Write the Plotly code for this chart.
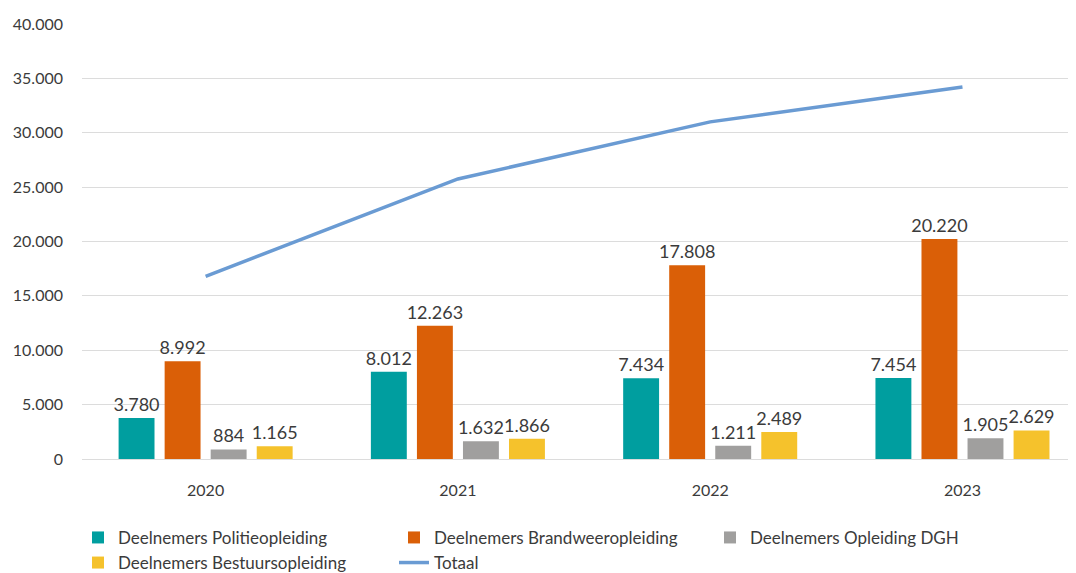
import plotly.graph_objects as go

jaren = ["2020", "2021", "2022", "2023"]
politie = [3780, 8012, 7434, 7454]
brandweer = [8992, 12263, 17808, 20220]
dgh = [884, 1632, 1211, 1905]
bestuur = [1165, 1866, 2489, 2629]
totaal = [16800, 25750, 31000, 34200]

tekst = "#3b3b3b"
fig = go.Figure()

series = [
    ("Deelnemers Politieopleiding", politie, "#009E9F"),
    ("Deelnemers Brandweeropleiding", brandweer, "#DA5F07"),
    ("Deelnemers Opleiding DGH", dgh, "#A09F9E"),
    ("Deelnemers Bestuursopleiding", bestuur, "#F5C22C"),
]
for naam, waarden, kleur in series:
    fig.add_trace(go.Bar(
        x=jaren, y=waarden, name=naam,
        marker=dict(color=kleur, line=dict(width=0)),
        text=[f"{v:,}".replace(",", ".") for v in waarden],
        textposition="outside", cliponaxis=False, constraintext="none",
        textfont=dict(size=18, color=tekst),
    ))

fig.add_trace(go.Scatter(
    x=jaren, y=totaal, name="Totaal", mode="lines",
    line=dict(color="#6A9BD3", width=3.5),
))

fig.update_layout(
    width=1068, height=565,
    margin=dict(l=74, r=0, t=16, b=114, autoexpand=False),
    paper_bgcolor="white", plot_bgcolor="white",
    font=dict(family="Lato", size=16, color=tekst),
    separators=",.",
    barmode="group", bargap=0.27, bargroupgap=0.22,
    showlegend=True,
    hovermode=False,
    legend=dict(
        orientation="h", x=-0.004, xanchor="left", y=-0.14, yanchor="top",
        entrywidth=271, entrywidthmode="pixels",
        font=dict(size=17, color=tekst), traceorder="normal",
        itemwidth=30, tracegroupgap=0,
    ),
    xaxis=dict(
        range=[-0.49, 3.45], showgrid=False, showline=False, ticks="",
        tickfont=dict(size=16, color=tekst), ticklabelstandoff=20,
    ),
    yaxis=dict(
        range=[0, 40000], dtick=5000, tickformat=",d",
        showgrid=True, gridcolor="#dcdcdc", gridwidth=1,
        zeroline=True, zerolinecolor="#dcdcdc", zerolinewidth=1,
        showline=False, ticks="",
        tickfont=dict(size=16, color=tekst), ticklabelstandoff=18,
    ),
)

fig.write_html("out.html")
